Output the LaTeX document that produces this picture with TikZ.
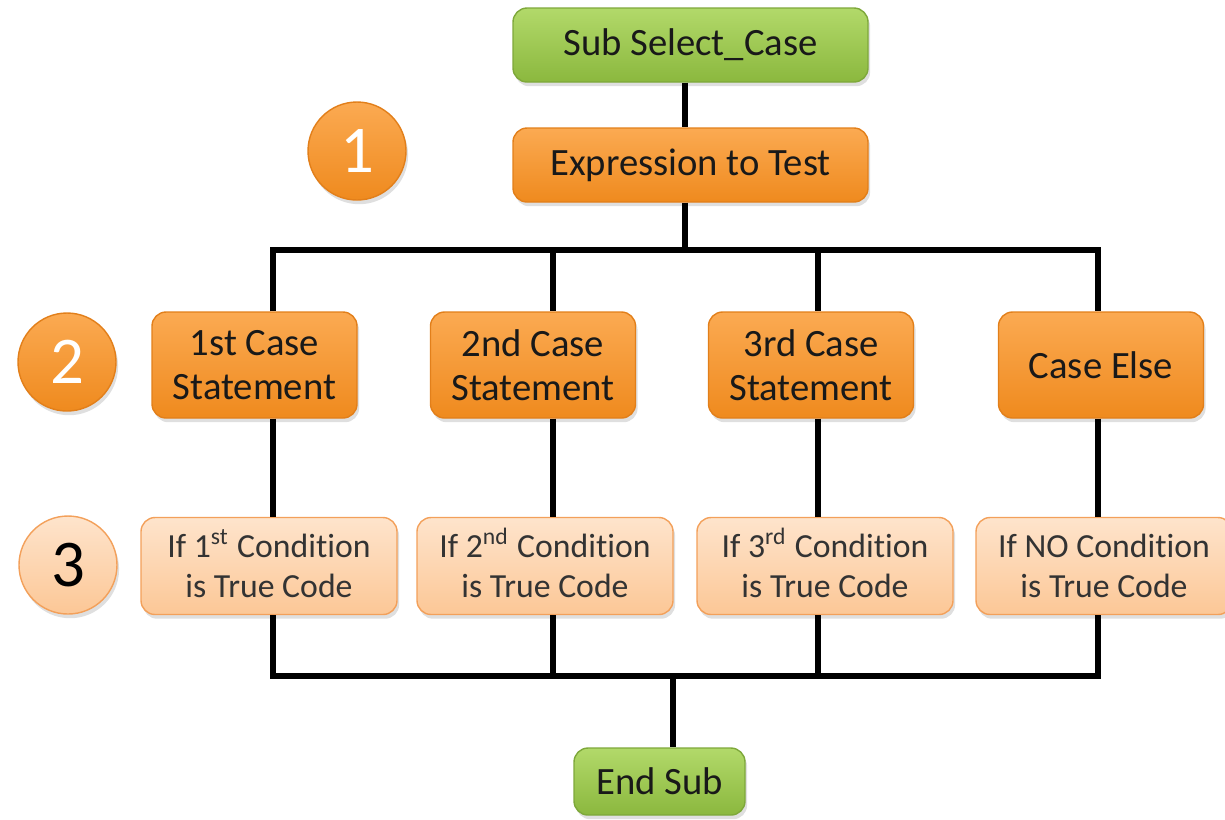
\documentclass[tikz,border=0pt]{standalone}
\usepackage{fontspec}
\setmainfont{Carlito}[Ligatures=NoCommon]
\usetikzlibrary{positioning,shadows}

\definecolor{subgreenlt}{HTML}{B2D96A}
\definecolor{subgreendk}{HTML}{8BB83E}
\definecolor{subedge}{HTML}{7EA83A}
\definecolor{caselt}{HTML}{FBAA52}
\definecolor{casedk}{HTML}{EF8A1E}
\definecolor{caseedge}{HTML}{E27F1A}
\definecolor{codelt}{HTML}{FEE4CC}
\definecolor{codedk}{HTML}{FCC796}
\definecolor{codeedge}{HTML}{F3A05A}

\newcommand{\ordsup}[1]{\smash{\textsuperscript{#1}}}

\tikzset{
  block/.style={rounded corners=4pt, align=center, inner sep=0pt,
    drop shadow={opacity=0.25, shadow xshift=0.6pt, shadow yshift=-1.2pt}},
  subblock/.style={block, draw=subedge, top color=subgreenlt, bottom color=subgreendk,
    text=black!90, font=\fontsize{11}{12.8}\selectfont},
  caseblock/.style={block, draw=caseedge, top color=caselt, bottom color=casedk,
    text=black!90, font=\fontsize{11}{12.4}\selectfont,
    minimum width=2.05cm, minimum height=1.06cm},
  codeblock/.style={block, draw=codeedge, top color=codelt, bottom color=codedk,
    text=black!80, font=\fontsize{9.6}{11.4}\selectfont,
    minimum width=2.56cm, minimum height=0.97cm},
  stepnum/.style={circle, minimum size=0.98cm, inner sep=0pt,
    drop shadow={opacity=0.25, shadow xshift=0.6pt, shadow yshift=-1.2pt},
    font=\fontsize{19}{19}\selectfont},
  wire/.style={line width=1.6pt, line join=miter}
}

\begin{document}
\begin{tikzpicture}
  \useasboundingbox (0,0) rectangle (12.25,-8.19);

  % top of the routine
  \node[subblock, minimum width=3.55cm, minimum height=0.74cm] (start) at (6.905,-0.45) {Sub Select\_Case};
  \node[caseblock, minimum width=3.55cm, minimum height=0.74cm] (expr) at (6.905,-1.65) {Expression to Test};

  % the four cases
  \node[caseblock] (case1) at (2.545,-3.65) {1st Case\\Statement};
  \node[caseblock] (case2) at (5.33,-3.65) {2nd Case\\Statement};
  \node[caseblock] (case3) at (8.11,-3.65) {3rd Case\\Statement};
  \node[caseblock] (case4) at (11.01,-3.65) {Case Else};

  \node[codeblock] (code1) at (2.69,-5.66) {If 1\ordsup{st} Condition\\is True Code};
  \node[codeblock] (code2) at (5.45,-5.66) {If 2\ordsup{nd} Condition\\is True Code};
  \node[codeblock] (code3) at (8.25,-5.66) {If 3\ordsup{rd} Condition\\is True Code};
  \node[codeblock] (code4) at (11.04,-5.66) {If NO Condition\\is True Code};

  \node[subblock, minimum width=1.71cm, minimum height=0.67cm] (stop) at (6.595,-7.815) {End Sub};

  % step numbers
  \node[stepnum, draw=caseedge, top color=caselt, bottom color=casedk, text=white] (n1) at (3.57,-1.51) {1};
  \node[stepnum, draw=caseedge, top color=caselt, bottom color=casedk, text=white] (n2) at (0.67,-3.62) {2};
  \node[stepnum, draw=codeedge, top color=codelt, bottom color=codedk, text=black] (n3) at (0.68,-5.65) {3};

  % bus points
  \coordinate (top) at (6.85,-2.50);
  \coordinate (foot) at (6.73,-6.76);
  \foreach \i/\x in {1/2.73, 2/5.53, 3/8.18, 4/10.98} {
    \coordinate (b\i) at (\x,-2.50);
    \coordinate (e\i) at (\x,-6.76);
  }

  % connectors
  \draw[wire] (start.south -| top) -- (expr.north -| top);
  \draw[wire] (expr.south -| top) -- (top);
  \draw[wire] (case1.north -| b1) |- (b4) -- (case4.north -| b4);
  \draw[wire] (b2) -- (case2.north -| b2);
  \draw[wire] (b3) -- (case3.north -| b3);
  \foreach \i in {1, 2, 3, 4} {
    \draw[wire] (case\i.south -| b\i) -- (code\i.north -| b\i);
  }
  \draw[wire] (code1.south -| e1) |- (e4) -- (code4.south -| e4);
  \draw[wire] (code2.south -| e2) -- (e2);
  \draw[wire] (code3.south -| e3) -- (e3);
  \draw[wire] (foot) -- (stop.north -| foot);
\end{tikzpicture}
\end{document}
